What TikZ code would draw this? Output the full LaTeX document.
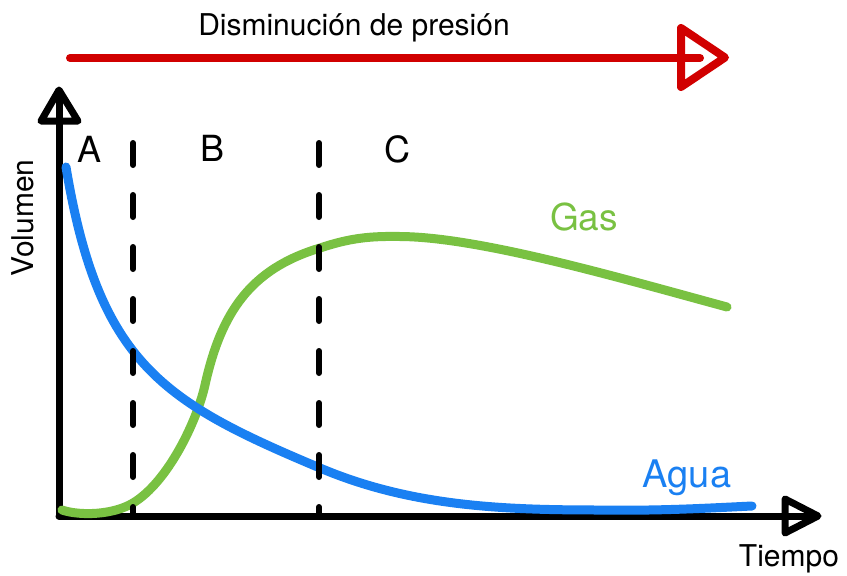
\documentclass[tikz,border=0pt]{standalone}
\usepackage{fontspec}
\setmainfont{TeX Gyre Heros}
\definecolor{redA}{HTML}{D10000}
\definecolor{blueA}{HTML}{1A80F2}
\definecolor{greenA}{HTML}{79C142}
\tikzset{
  axisline/.style={line width=7pt, line cap=round, line join=round},
  headtri/.style={line width=7pt, line join=round},
  guide/.style={line width=6pt, line cap=round, dash pattern=on 22pt off 30pt},
  curve/.style={line width=9pt, line cap=round},
  lbl/.style={inner sep=0pt, anchor=base},
}
\newcommand{\fs}[1]{\fontsize{#1}{#1}\selectfont}
\begin{document}
\begin{tikzpicture}[x=1pt,y=-1pt]
\useasboundingbox (0,0) rectangle (847,576);
% pressure arrow
\coordinate (pS) at (70,58);
\coordinate (pE) at (700,58);
\draw[redA, line width=8pt, line cap=round] (pS) -- (pE);
\draw[redA, line width=8pt, line join=round] (681,28) -- (681,87) -- (725,57.5) -- cycle;
\node[lbl, font=\fs{30}] (title) at (354,35) {Disminución de presión};
% axes
\coordinate (O) at (59,516);
\coordinate (Ytop) at (59,95);
\coordinate (Xend) at (812,516);
\draw[axisline] (O) -- (Ytop);
\draw[headtri] (59,90) -- (41,121) -- (78,121) -- cycle;
\draw[axisline] (O) -- (Xend);
\draw[headtri] (785,499) -- (785,533) -- (818,516) -- cycle;
\node[lbl, font=\fs{30}, rotate=90] (yl) at (33,218) {Volumen};
\node[lbl, font=\fs{30}] (xl) at (789,566) {Tiempo};
% curves
\draw[curve, greenA] (62,510) .. controls (80,516) and (113,515) .. (133,503)
  .. controls (168,482) and (197,421) .. (205,385)
  .. controls (221,313) and (250,269) .. (320,248)
  .. controls (350,238) and (370,236) .. (400,236.5)
  .. controls (480,237) and (620,278) .. (727,307);
\draw[curve, blueA] (66,167) .. controls (98.8,364) and (163,402) .. (320,468)
  .. controls (410,506) and (500,510) .. (600,510)
  .. controls (660,511) and (710,508) .. (752,506);
% region guides
\coordinate (d1t) at (133,143);
\coordinate (d1b) at (133,516);
\coordinate (d2t) at (319,143);
\coordinate (d2b) at (319,516);
\draw[guide] (d1t) -- (d1b);
\draw[guide] (d2t) -- (d2b);
\node[lbl, font=\fs{36}] (A) at (90,162) {A};
\node[lbl, font=\fs{36}] (B) at (213,161) {B};
\node[lbl, font=\fs{36}] (C) at (397,162) {C};
\node[lbl, font=\fs{37}, text=greenA] (gas) at (584,230) {Gas};
\node[lbl, font=\fs{38}, text=blueA] (agua) at (687,487) {Agua};
\end{tikzpicture}
\end{document}
